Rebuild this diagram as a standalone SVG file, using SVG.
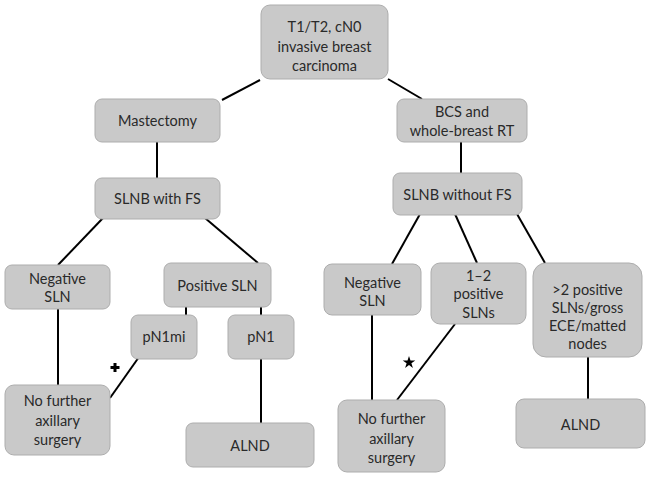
<svg xmlns="http://www.w3.org/2000/svg" width="650" height="479" viewBox="0 0 650 479">
<style>
.box{fill:#c9c9c9;stroke:#adadad;stroke-width:1}
.t{font-family:Lato,"Open Sans","DejaVu Sans",sans-serif;font-size:14.5px;fill:#2a2a2a;text-anchor:middle}
.c{stroke:#000;stroke-width:2;fill:none}
</style>
<rect width="650" height="479" fill="#fff"/>
<g id="connectors">
<line class="c" x1="260" y1="80" x2="222" y2="100"/>
<line class="c" x1="388" y1="79" x2="422" y2="99"/>
<line class="c" x1="157" y1="142" x2="157" y2="178"/>
<line class="c" x1="461" y1="142" x2="461" y2="173"/>
<line class="c" x1="103" y1="218" x2="58" y2="265"/>
<line class="c" x1="205" y1="218" x2="258" y2="263"/>
<line class="c" x1="186" y1="307" x2="186" y2="315"/>
<line class="c" x1="261" y1="307" x2="261" y2="315"/>
<line class="c" x1="58" y1="309" x2="58" y2="385"/>
<line class="c" x1="139" y1="357" x2="110" y2="398"/>
<line class="c" x1="261" y1="359" x2="261" y2="423"/>
<line class="c" x1="420" y1="214" x2="392" y2="264"/>
<line class="c" x1="455" y1="214" x2="477" y2="263"/>
<line class="c" x1="517" y1="214" x2="545" y2="263"/>
<line class="c" x1="372" y1="315" x2="372" y2="400"/>
<line class="c" x1="455" y1="324" x2="397" y2="400"/>
<line class="c" x1="588" y1="357" x2="588" y2="399"/>
<path d="M113.5,363h3v3h3v3h-3v3h-3v-3h-3v-3h3z" fill="#000"/>
<path d="M409,356l1.5,4.5h4.8l-3.9,2.8l1.5,4.6l-3.9,-2.8l-3.9,2.8l1.5,-4.6l-3.9,-2.8h4.8z" fill="#000"/>
</g>
<g id="n-top"><rect class="box" x="261" y="5" width="127" height="74" rx="9"/>
<text class="t" x="324.5" y="32">T1/T2, cN0</text><text class="t" x="324.5" y="52">invasive breast</text><text class="t" x="324.5" y="71">carcinoma</text></g>
<g id="n-mast"><rect class="box" x="95" y="99" width="125" height="43" rx="7"/>
<text class="t" x="157.5" y="126">Mastectomy</text></g>
<g id="n-slnbfs"><rect class="box" x="95" y="178" width="125" height="41" rx="7"/>
<text class="t" x="157.5" y="204">SLNB with FS</text></g>
<g id="n-bcs"><rect class="box" x="397" y="99" width="130" height="43" rx="7"/>
<text class="t" x="462" y="117">BCS and</text><text class="t" x="462" y="136">whole-breast RT</text></g>
<g id="n-slnbnofs"><rect class="box" x="393" y="173" width="129" height="42" rx="7"/>
<text class="t" x="457.5" y="200">SLNB without FS</text></g>
<g id="n-negL"><rect class="box" x="5" y="265" width="105" height="44" rx="7"/>
<text class="t" x="57.5" y="284">Negative</text><text class="t" x="57.5" y="302">SLN</text></g>
<g id="n-pos"><rect class="box" x="164" y="263" width="107" height="44" rx="7"/>
<text class="t" x="217.5" y="291">Positive SLN</text></g>
<g id="n-pn1mi"><rect class="box" x="131" y="315" width="66" height="44" rx="7"/>
<text class="t" x="164" y="342">pN1mi</text></g>
<g id="n-pn1"><rect class="box" x="228" y="315" width="66" height="44" rx="7"/>
<text class="t" x="261" y="342">pN1</text></g>
<g id="n-nofL"><rect class="box" x="5" y="385" width="105" height="70" rx="9"/>
<text class="t" x="57.5" y="406">No further</text><text class="t" x="57.5" y="426">axillary</text><text class="t" x="57.5" y="445">surgery</text></g>
<g id="n-alndL"><rect class="box" x="186" y="423" width="128" height="44" rx="7"/>
<text class="t" x="250" y="451">ALND</text></g>
<g id="n-negR"><rect class="box" x="324" y="264" width="97" height="51" rx="8"/>
<text class="t" x="372.5" y="288">Negative</text><text class="t" x="372.5" y="306">SLN</text></g>
<g id="n-12"><rect class="box" x="431" y="263" width="95" height="61" rx="9"/>
<text class="t" x="478.5" y="281">1–2</text><text class="t" x="478.5" y="299">positive</text><text class="t" x="478.5" y="318">SLNs</text></g>
<g id="n-gt2"><rect class="box" x="533" y="263" width="109" height="94" rx="13"/>
<text class="t" x="587.5" y="295">&gt;2 positive</text><text class="t" x="587.5" y="313">SLNs/gross</text><text class="t" x="587.5" y="331">ECE/matted</text><text class="t" x="587.5" y="349">nodes</text></g>
<g id="n-nofR"><rect class="box" x="338" y="400" width="107" height="72" rx="9"/>
<text class="t" x="391.5" y="424">No further</text><text class="t" x="391.5" y="444">axillary</text><text class="t" x="391.5" y="463">surgery</text></g>
<g id="n-alndR"><rect class="box" x="516" y="399" width="129" height="49" rx="8"/>
<text class="t" x="580.5" y="430">ALND</text></g>
</svg>
